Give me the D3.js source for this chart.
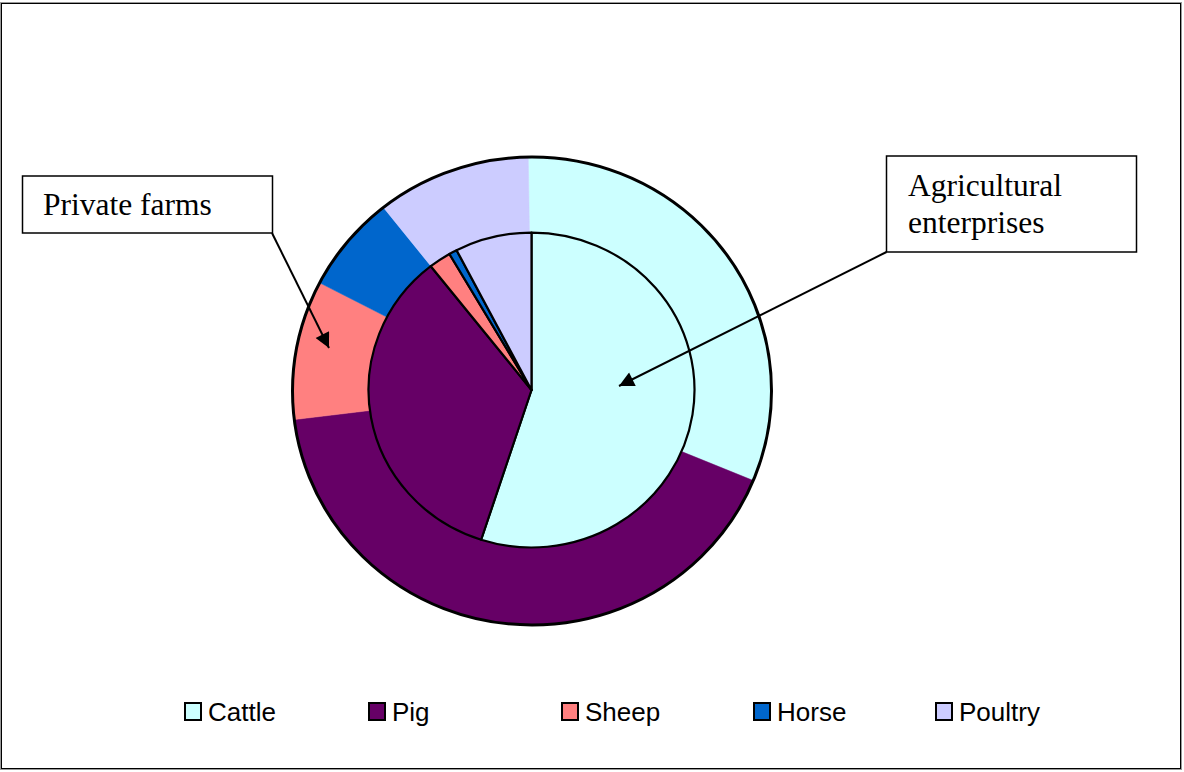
<!DOCTYPE html>
<html>
<head>
<meta charset="utf-8">
<script src="https://cdn.jsdelivr.net/npm/d3@7"></script>
<style>
  html, body { margin: 0; padding: 0; background: #fff; }
  svg { display: block; }
</style>
</head>
<body>
<svg id="chart" width="1184" height="772"></svg>
<script>
const categories = ["Cattle", "Pig", "Sheep", "Horse", "Poultry"];
const colors = ["#CCFFFF", "#660066", "#FF8080", "#0066CC", "#CCCCFF"];
// Inner pie: Agricultural enterprises (% share)
const agriculturalEnterprises = [55.0, 34.4, 2.2, 0.8, 7.6];
// Outer ring: Private farms (% share)
const privateFarms = [31.5, 41.8, 9.6, 6.7, 10.4];
const seriesLabels = ["Private farms", "Agricultural enterprises"];

const svg = d3.select("#chart");

// frame
svg.append("rect").attr("x", 1.5).attr("y", 3.5).attr("width", 1179).attr("height", 765)
  .attr("fill", "#fff").attr("stroke", "#000").attr("stroke-width", 1);
svg.append("rect").attr("x", 0.5).attr("y", 2.5).attr("width", 1181).attr("height", 767)
  .attr("fill", "none").attr("stroke", "#999").attr("stroke-width", 1);

const color = d3.scaleOrdinal().domain(categories).range(colors);

const cx = 532, cy = 391;
const outerR = 239.5, outerRatio = 0.977;
const innerR = 163, innerRatio = 0.966;

// outer ring
const pieOuter = d3.pie().sort(null).value(d => d.v)
  .startAngle(-0.9 * Math.PI / 180).endAngle(2 * Math.PI - 0.9 * Math.PI / 180);
const outerData = pieOuter(categories.map((c, i) => ({ c, v: privateFarms[i] })));
const gOuter = svg.append("g").attr("transform", `translate(${cx},${cy}) scale(1,${outerRatio})`);
const arcOuter = d3.arc().innerRadius(120).outerRadius(outerR);
gOuter.selectAll("path").data(outerData).join("path")
  .attr("d", arcOuter).attr("fill", d => color(d.data.c))
  .attr("stroke", d => color(d.data.c)).attr("stroke-width", 0.5)
  .attr("vector-effect", "non-scaling-stroke");
gOuter.append("circle").attr("r", outerR).attr("fill", "none")
  .attr("stroke", "#000").attr("stroke-width", 3).attr("vector-effect", "non-scaling-stroke");

// inner pie
const pieInner = d3.pie().sort(null).value(d => d.v);
const innerData = pieInner(categories.map((c, i) => ({ c, v: agriculturalEnterprises[i] })));
const gInner = svg.append("g").attr("transform", `translate(${cx - 0.5},${cy - 1}) scale(1,${innerRatio})`);
const arcInner = d3.arc().innerRadius(0).outerRadius(innerR);
gInner.selectAll("path").data(innerData).join("path")
  .attr("d", arcInner).attr("fill", d => color(d.data.c))
  .attr("stroke", "#000").attr("stroke-width", 2.2).attr("stroke-linejoin", "round")
  .attr("vector-effect", "non-scaling-stroke");

// arrow marker
const defs = svg.append("defs");
defs.append("marker").attr("id", "arrow").attr("viewBox", "0 0 10 10")
  .attr("refX", 10).attr("refY", 5).attr("markerWidth", 9).attr("markerHeight", 7.5)
  .attr("markerUnits", "strokeWidth").attr("orient", "auto")
  .append("path").attr("d", "M0,0 L10,5 L0,10 Z").attr("fill", "#000");

// callouts
svg.append("line").attr("x1", 272).attr("y1", 233).attr("x2", 329).attr("y2", 348)
  .attr("stroke", "#000").attr("stroke-width", 2).attr("marker-end", "url(#arrow)");
svg.append("rect").attr("x", 22.5).attr("y", 176).attr("width", 250).attr("height", 57)
  .attr("fill", "#fff").attr("stroke", "#000").attr("stroke-width", 1.5);
svg.append("text").attr("x", 43).attr("y", 215).text(seriesLabels[0])
  .attr("font-family", "'Liberation Serif', 'Times New Roman', serif").attr("font-size", 31.5).attr("fill", "#000");

svg.append("line").attr("x1", 886.5).attr("y1", 252).attr("x2", 619).attr("y2", 386)
  .attr("stroke", "#000").attr("stroke-width", 2).attr("marker-end", "url(#arrow)");
svg.append("rect").attr("x", 886.5).attr("y", 156).attr("width", 250).attr("height", 96)
  .attr("fill", "#fff").attr("stroke", "#000").attr("stroke-width", 1.5);
const t2 = svg.append("text").attr("font-family", "'Liberation Serif', 'Times New Roman', serif")
  .attr("font-size", 31.5).attr("fill", "#000");
t2.append("tspan").attr("x", 908).attr("y", 196).text("Agricultural");
t2.append("tspan").attr("x", 908).attr("y", 233).text("enterprises");

// legend
const legendX = [185, 369, 562, 754, 936];
const lg = svg.append("g");
categories.forEach((c, i) => {
  lg.append("rect").attr("x", legendX[i]).attr("y", 703).attr("width", 16).attr("height", 17)
    .attr("fill", color(c)).attr("stroke", "#000").attr("stroke-width", 2);
  lg.append("text").attr("x", legendX[i] + 23).attr("y", 721).text(c)
    .attr("font-family", "'Liberation Sans', Arial, sans-serif").attr("font-size", 26)
    .attr("fill", "#000");
});
</script>
</body>
</html>
